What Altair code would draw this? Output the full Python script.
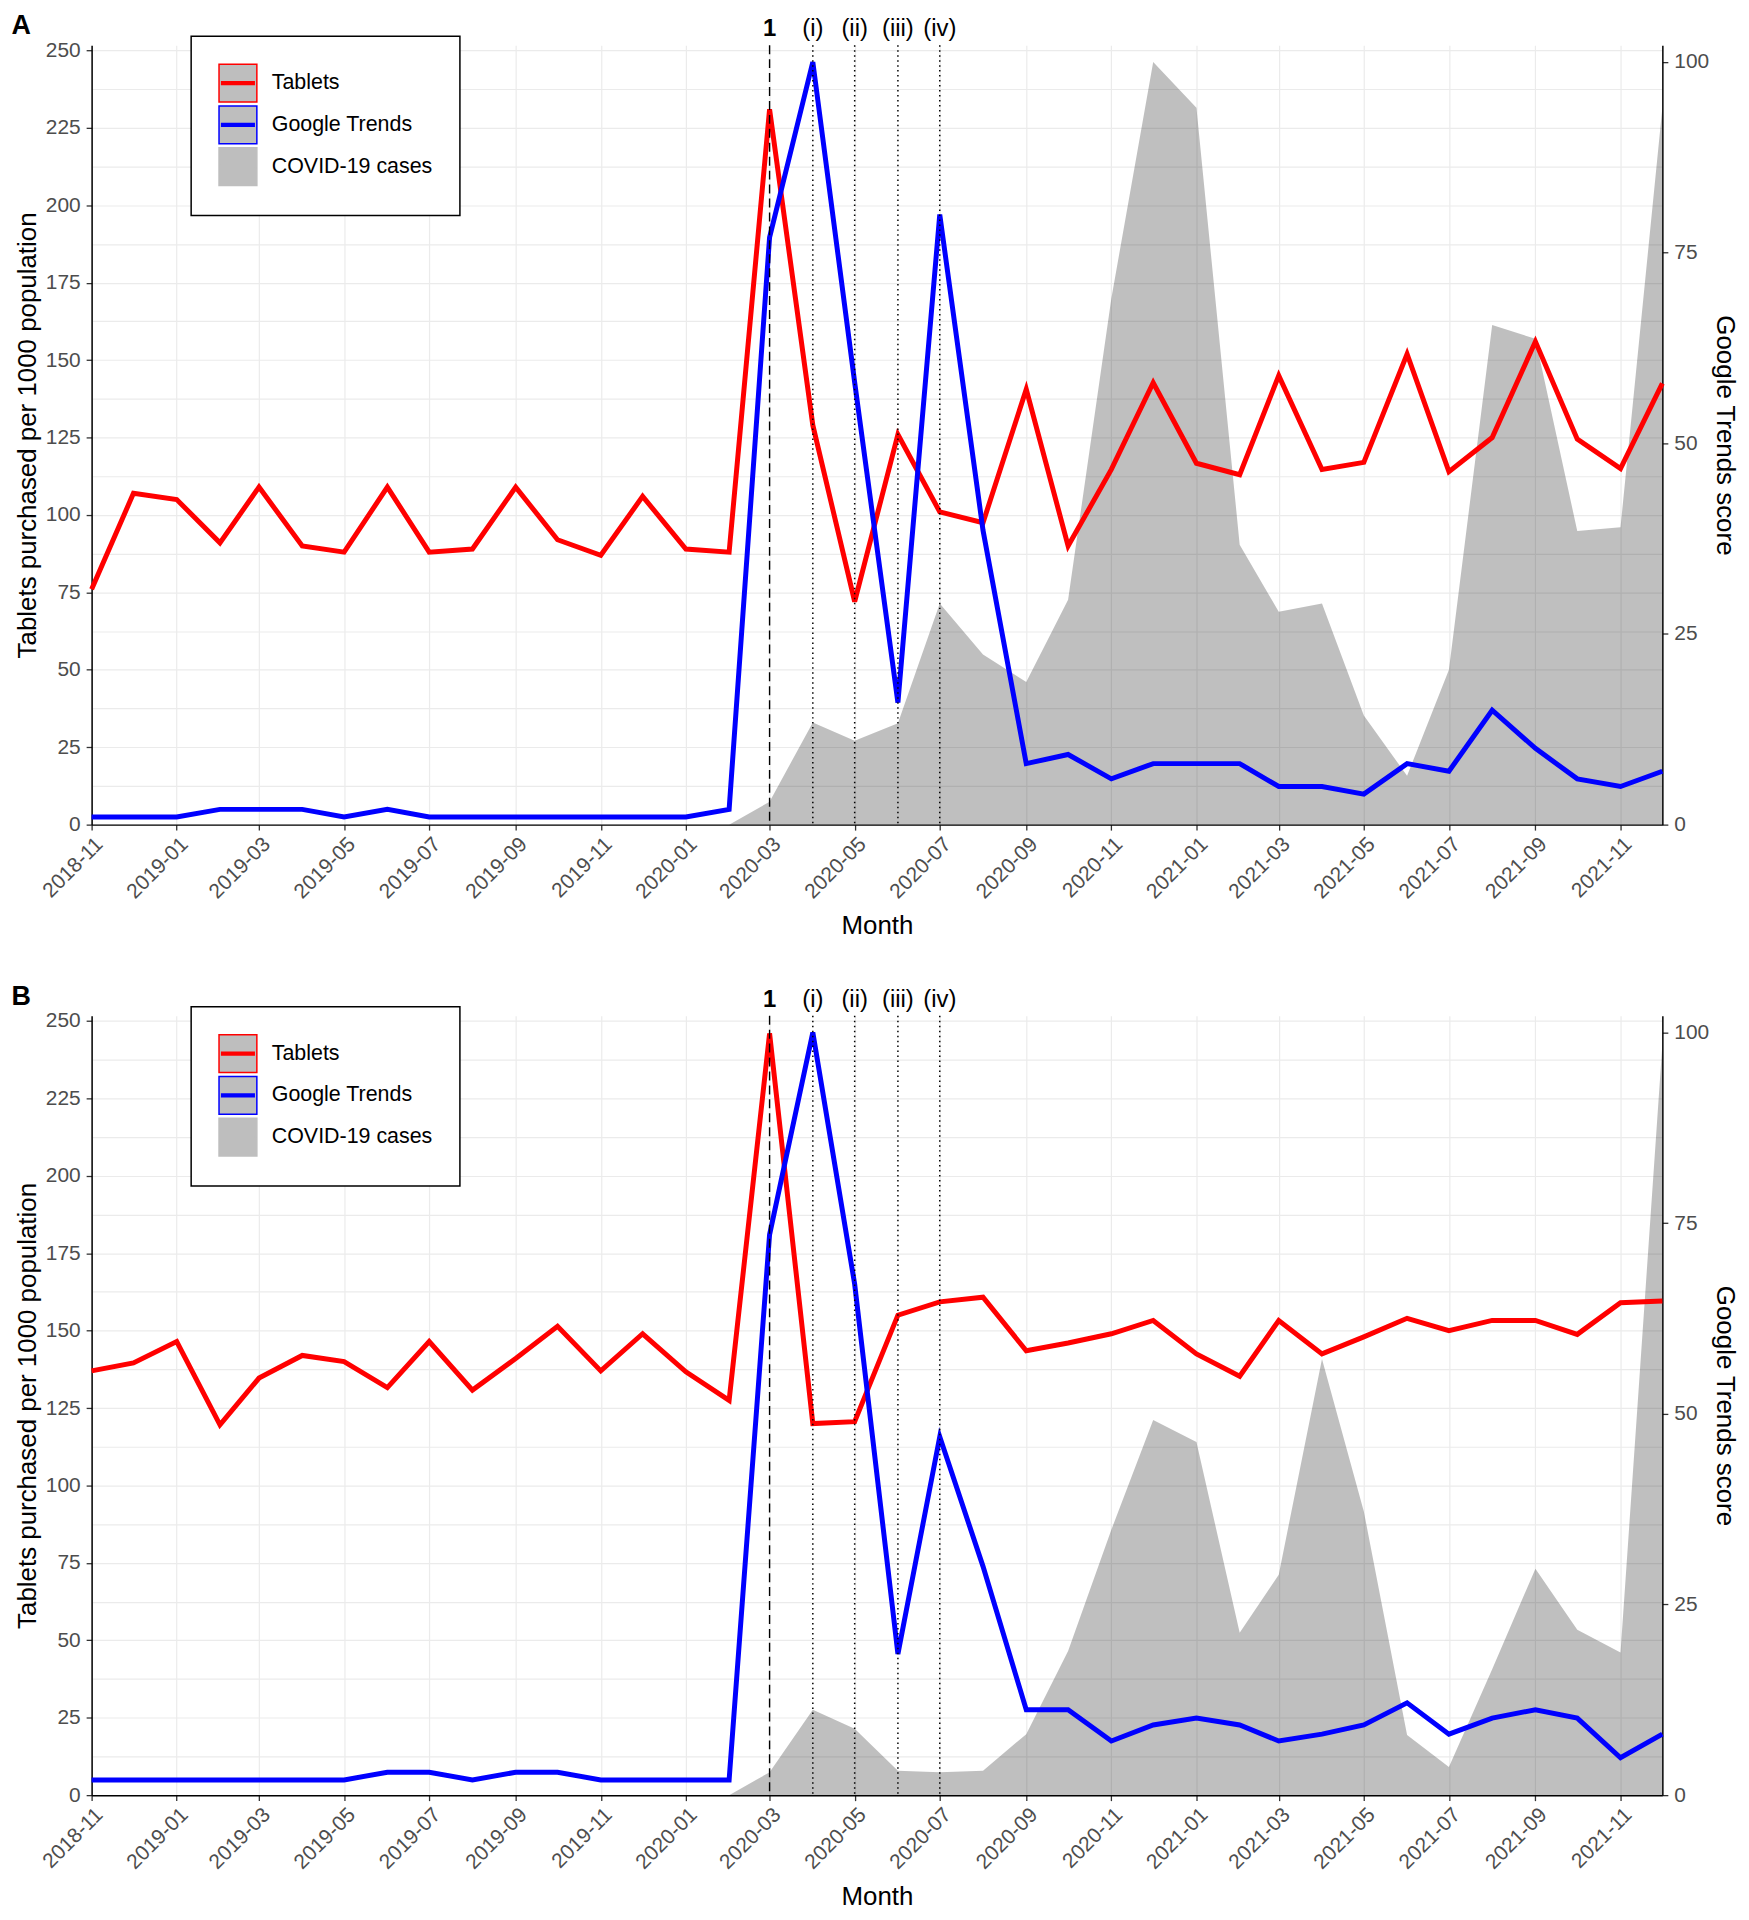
import altair as alt
import pandas as pd

FONT = "Liberation Sans"

# ---- data -------------------------------------------------------------
months = list(pd.date_range("2018-11-01", "2021-12-01", freq="MS").strftime("%Y-%m-%dT00:00:00"))
tick_months = months[::2]
covid_months = months[15:]  # from 2020-02

series_names = ["Tablets", "Google Trends", "COVID-19 cases"]
series_colors = ["#FF0000", "#0000FF", "#BEBEBE"]

event_months = ["2020-03-01T00:00:00", "2020-04-01T00:00:00", "2020-05-01T00:00:00",
                "2020-06-01T00:00:00", "2020-07-01T00:00:00"]
event_labels = ["1", "(i)", "(ii)", "(iii)", "(iv)"]
event_kinds = ["dashed", "dotted", "dotted", "dotted", "dotted"]

a_tablets = [76, 107, 105, 91, 109, 90, 88, 109, 88, 89, 109, 92, 87, 106, 89, 88,
             231, 129, 72, 126, 101, 97.5, 140.6, 90, 114.7, 142.7, 116.7, 113, 145,
             114.7, 117, 152, 114, 125, 156, 124.5, 115, 142.5]
a_google = [1, 1, 1, 2, 2, 2, 1, 2, 1, 1, 1, 1, 1, 1, 1, 2,
            77, 100, 58, 16, 80, 38.6, 8, 9.2, 6, 8, 8, 8, 5, 5, 4, 8, 7, 15, 10, 6, 5, 7]
a_covid = [0, 3, 13.4, 11, 13.3, 29, 22.3, 18.7, 29.5, 69, 100, 94, 36.7, 27.9, 29,
           14.3, 6.4, 20.3, 65.5, 63.7, 38.5, 39, 94]

b_tablets = [137, 139.6, 146.5, 119.6, 134.7, 142, 140, 131.6, 146.5, 130.8, 141, 151.4,
             137, 149, 136.7, 127.5, 246, 120, 120.6, 155, 159.3, 160.8, 143.5, 146, 149,
             153.3, 142.5, 135.3, 153.3, 142.5, 148, 154, 150, 153.3, 153.3, 148.8, 159, 159.6]
b_google = [2, 2, 2, 2, 2, 2, 2, 3, 3, 2, 3, 3, 2, 2, 2, 2,
            73.5, 100, 67, 18.5, 47, 30, 11.2, 11.2, 7.1, 9.2, 10.1, 9.2, 7.1, 8, 9.2,
            12.1, 8, 10.1, 11.2, 10.1, 4.9, 8]
b_covid = [0, 3, 11.2, 8.7, 3.2, 3, 3.2, 8, 18.9, 34.8, 49.2, 46.3, 21.3, 28.9, 57.2,
           37.2, 7.9, 3.7, 16.5, 29.7, 21.7, 18.7, 98.4]

left_ticks = [i * 12.5 for i in range(21)]
right_ticks = [0, 25, 50, 75, 100]
LEFT_MAX = 251.7
RIGHT_MAX = 102.2

W, H = 1578, 783


def dt(s):
    return alt.DateTime(year=int(s[:4]), month=int(s[5:7]), date=1)


SYMBOL = "M-1,-1H1V1H-1Z M-0.9,-0.075H0.9 M-0.9,0H0.9 M-0.9,0.075H0.9"


def panel(letter, tablets, google, covid):
    df_tab = pd.DataFrame({"month": months, "value": tablets, "series": "Tablets"})
    df_goo = pd.DataFrame({"month": months, "value": google, "series": "Google Trends"})
    df_cov = pd.DataFrame({"month": covid_months, "value": covid})
    df_evt = pd.DataFrame({"month": event_months, "label": event_labels, "kind": event_kinds})

    x_enc = alt.X(
        "month:T",
        title="Month",
        scale=alt.Scale(domain=[dt(months[0]), dt(months[-1])], nice=False),
        axis=alt.Axis(
            values=[dt(m) for m in tick_months],
            format="%Y-%m",
            labelAngle=-45,
            labelAlign="right",
            labelBaseline="top",
            labelPadding=3,
            labelFlush=False,
            labelOverlap=False,
            titlePadding=11,
            grid=True,
        ),
    )
    left_scale = alt.Scale(domain=[0, LEFT_MAX], nice=False, zero=True)
    right_scale = alt.Scale(domain=[0, RIGHT_MAX], nice=False, zero=True)

    legend = alt.Legend(
        title=None,
        orient="none",
        legendX=100,
        legendY=-9,
        direction="vertical",
        symbolType=SYMBOL,
        symbolSize=1444,
        symbolStrokeWidth=1.5,
        symbolFillColor="#BEBEBE",
        symbolOpacity=1,
        labelFont=FONT,
        labelFontSize=21.5,
        labelColor="black",
        labelLimit=400,
        labelOffset=14,
        rowPadding=-5,
        padding=27,
        strokeColor="black",
        fillColor="white",
    )
    color_enc = alt.Color("series:N",
                          scale=alt.Scale(domain=series_names, range=series_colors),
                          legend=legend)

    area = alt.Chart(df_cov).mark_area(color="black", opacity=0.25).encode(
        x=x_enc, y=alt.Y("value:Q", scale=right_scale, axis=None))

    red = alt.Chart(df_tab).mark_line(strokeWidth=5).encode(
        x=x_enc,
        y=alt.Y("value:Q", scale=left_scale,
                axis=alt.Axis(orient="left", values=left_ticks,
                              labelExpr="datum.value % 25 == 0 ? datum.label : ''",
                              tickOpacity={"condition": {"test": "datum.value % 25 != 0", "value": 0},
                                           "value": 1},
                              grid=True, labelPadding=6, titlePadding=5,
                              title="Tablets purchased per 1000 population")),
        color=color_enc)

    blue = alt.Chart(df_goo).mark_line(strokeWidth=5).encode(
        x=x_enc,
        y=alt.Y("value:Q", scale=right_scale,
                axis=alt.Axis(orient="right", values=right_ticks, grid=False,
                              labelPadding=6, titlePadding=3,
                              title="Google Trends score")),
        color=color_enc)

    rules_dash = alt.Chart(df_evt).transform_filter("datum.kind == 'dashed'").mark_rule(
        color="black", strokeWidth=1.4, strokeDash=[9, 5]).encode(x=x_enc)
    rules_dot = alt.Chart(df_evt).transform_filter("datum.kind == 'dotted'").mark_rule(
        color="black", strokeWidth=1.5, strokeDash=[1.5, 3.5]).encode(x=x_enc)

    txt_b = alt.Chart(df_evt).transform_filter("datum.kind == 'dashed'").mark_text(
        font=FONT, fontSize=24, fontWeight="bold", baseline="middle", align="center",
        color="black").encode(x=x_enc, y=alt.value(-16), text="label:N")
    txt_n = alt.Chart(df_evt).transform_filter("datum.kind == 'dotted'").mark_text(
        font=FONT, fontSize=24, baseline="middle", align="center",
        color="black").encode(x=x_enc, y=alt.value(-16), text="label:N")

    return alt.layer(
        area, red, blue, rules_dash, rules_dot, txt_b, txt_n,
        title=alt.TitleParams(letter, anchor="start", frame="bounds", fontSize=27,
                              fontWeight="bold", font=FONT, color="black", offset=-23,
                              dx=-3),
    ).resolve_scale(y="independent").properties(width=W, height=H)


pA = panel("A", a_tablets, a_google, a_covid)
pB = panel("B", b_tablets, b_google, b_covid)

chart = (
    alt.vconcat(pA, pB, spacing=44)
    .resolve_scale(color="independent")
    .properties(padding={"left": 3, "top": 0, "right": 3, "bottom": 0}, background="white")
    .configure(font=FONT)
    .configure_view(strokeWidth=0)
    .configure_legend(strokeWidth=1.5)
    .configure_axis(
        labelFont=FONT, titleFont=FONT, labelFontSize=21, titleFontSize=26,
        labelColor="#4D4D4D", titleColor="black", titleFontWeight="normal",
        domainColor="black", domainWidth=1.5, tickColor="#333333", tickSize=5.5,
        tickWidth=1.3, gridColor="#EBEBEB", gridWidth=1.2,
    )
)

chart.save("out.html", embed_options={"renderer": "svg", "actions": False})
